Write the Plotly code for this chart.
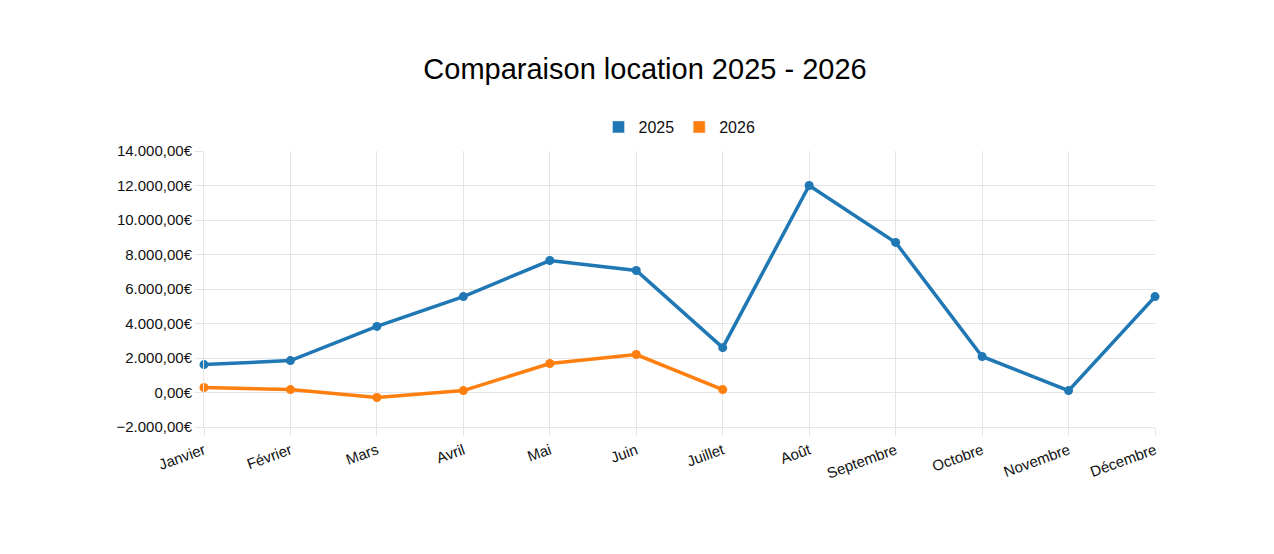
import plotly.graph_objects as go

months = ["Janvier","Février","Mars","Avril","Mai","Juin","Juillet","Août","Septembre","Octobre","Novembre","Décembre"]
v2025 = [1620,1850,3830,5560,7650,7070,2600,12000,8700,2090,110,5560]
v2026 = [290,170,-290,110,1680,2200,170]

fig = go.Figure()
fig.add_trace(go.Scatter(x=months, y=v2025, name="2025", mode="lines+markers", showlegend=False,
    line=dict(color="#1f77b4", width=3.5), marker=dict(size=9), cliponaxis=False))
fig.add_trace(go.Scatter(x=months[:7], y=v2026, name="2026", mode="lines+markers", showlegend=False,
    line=dict(color="#ff7f0e", width=3.5), marker=dict(size=9), cliponaxis=False))
for name, col in [("2025", "#1f77b4"), ("2026", "#ff7f0e")]:
    fig.add_trace(go.Bar(x=[None], y=[None], name=name, marker_color=col))
fig.update_layout(
    width=1274, height=554, plot_bgcolor="white", paper_bgcolor="white",
    separators=",.",
    font=dict(family="Liberation Sans, Arial", size=15, color="#111"),
    title=dict(text="Comparaison location 2025 - 2026", x=0.5, y=0.89, xanchor="center", yanchor="middle",
               font=dict(size=29, color="black")),
    legend=dict(orientation="h", x=0.5, xanchor="center", y=1.087, yanchor="middle",
                font=dict(size=16)),
    margin=dict(l=196, r=127, t=143, b=135),
    xaxis=dict(showgrid=True, gridcolor="#e5e5e5", tickangle=-20, range=[0,11],
               showline=True, linecolor="#e5e5e5", ticks="outside", tickcolor="#e5e5e5", ticklen=8),
    yaxis=dict(range=[-2000,14000], dtick=2000, tickformat=",.2f", ticksuffix="€",
               gridcolor="#e5e5e5", zeroline=False, showline=True, linecolor="#e5e5e5",
               ticks="outside", tickcolor="#e5e5e5", ticklen=8),
)
fig.write_html("out.html")
